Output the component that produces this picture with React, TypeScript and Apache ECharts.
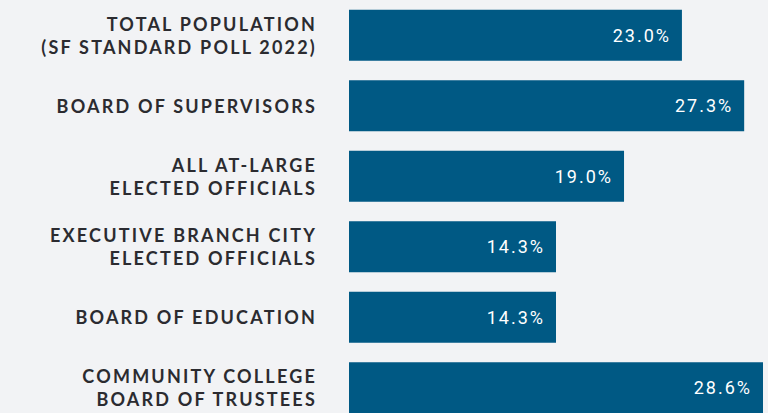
import React, { useEffect, useRef } from "react";
import * as echarts from "echarts";

const categories: string[] = [
  "TOTAL POPULATION\n(SF STANDARD POLL 2022)",
  "BOARD OF SUPERVISORS",
  "ALL AT-LARGE\nELECTED OFFICIALS",
  "EXECUTIVE BRANCH CITY\nELECTED OFFICIALS",
  "BOARD OF EDUCATION",
  "COMMUNITY COLLEGE\nBOARD OF TRUSTEES",
];
const values: number[] = [23.0, 27.3, 19.0, 14.3, 14.3, 28.6];

const BG = "#f2f3f5";
const BAR = "#005984";

function applySpacing(root: HTMLElement | null) {
  if (!root) return;
  root.querySelectorAll("text").forEach((t) => {
    const el = t as SVGTextElement;
    const fill = (el.getAttribute("fill") || "").toLowerCase();
    const isWhite = fill === "#fff" || fill === "#ffffff" || fill.includes("255,255,255");
    el.style.letterSpacing = isWhite ? "2px" : "2.2px";
  });
}

export default function App() {
  const ref = useRef<HTMLDivElement>(null);
  useEffect(() => {
    document.documentElement.style.overflow = "hidden";
    document.body.style.margin = "0";
    document.body.style.overflow = "hidden";
    document.body.style.background = BG;
    const chart = echarts.init(ref.current!, undefined, { renderer: "svg" });
    chart.setOption({
      animation: false,
      backgroundColor: BG,
      grid: { left: 349, right: 5, top: 0, bottom: 0, containLabel: false },
      xAxis: {
        type: "value",
        min: 0,
        max: 28.6,
        show: false,
      },
      yAxis: {
        type: "category",
        inverse: true,
        data: categories,
        axisLine: { show: false },
        axisTick: { show: false },
        splitLine: { show: false },
        axisLabel: {
          margin: 32,
          color: "#2b2b30",
          fontFamily: "Lato",
          fontWeight: "bold",
          fontSize: 18,
          lineHeight: 23,
          align: "right",
        },
      },
      series: [
        {
          type: "bar",
          data: values,
          barWidth: 51,
          itemStyle: { color: BAR },
          label: {
            show: true,
            position: "insideRight",
            distance: 11,
            color: "#ffffff",
            fontFamily: "Roboto",
            fontSize: 18,
            formatter: (p: any) => Number(p.value).toFixed(1) + "%",
          },
        },
      ],
    });
    applySpacing(ref.current);
    chart.on("finished", () => applySpacing(ref.current));
    const t = setTimeout(() => applySpacing(ref.current), 50);
    return () => {
      clearTimeout(t);
      chart.dispose();
    };
  }, []);
  return <div ref={ref} style={{ width: 768, height: 423, background: BG }} />;
}
